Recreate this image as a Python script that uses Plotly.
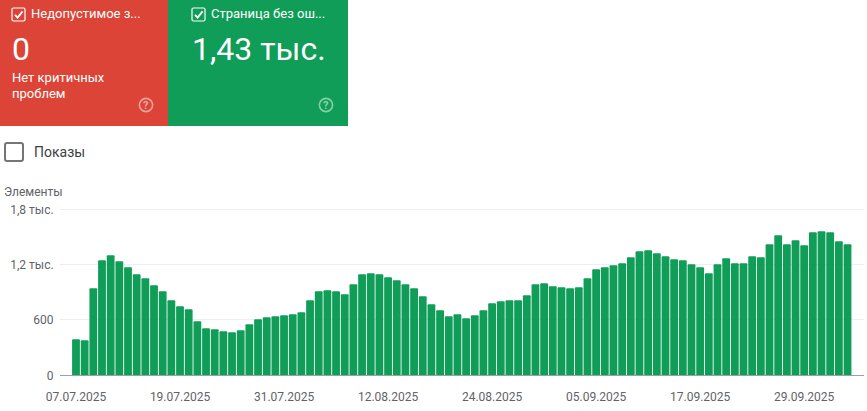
import pandas as pd
import plotly.graph_objects as go

W, H = 867, 411

dates = [d.strftime("%d.%m.%Y") for d in pd.date_range("2025-07-07", periods=90)]
values = [390, 380, 943, 1247, 1301, 1236, 1171, 1095, 1052, 976,
          911, 813, 748, 716, 585, 510, 499, 477, 466, 488,
          553, 607, 629, 640, 650, 661, 683, 813, 911, 922,
          911, 878, 987, 1095, 1106, 1095, 1063, 1030, 987, 943,
          857, 770, 705, 640, 661, 618, 650, 705, 781, 802,
          813, 813, 867, 987, 997, 965, 954, 943, 954, 1052,
          1149, 1171, 1193, 1214, 1279, 1344, 1355, 1323, 1290, 1258,
          1247, 1203, 1171, 1106, 1203, 1269, 1214, 1214, 1290, 1279,
          1420, 1518, 1420, 1464, 1409, 1550, 1561, 1550, 1453, 1420]
x_ticks = dates[::12]
y_ticks = [0, 600, 1200, 1800]
y_labels = ["0", "600", "1,2 тыс.", "1,8 тыс."]

RED, GREEN, GREY = "#db4437", "#0f9d58", "#5f6368"
FONT = "Roboto"


def px(x):
    return x / W


def py(y):
    return 1 - y / H


fig = go.Figure(go.Bar(x=dates, y=values, marker=dict(color=GREEN, line_width=0, cornerradius=1),
                       width=0.9))

shapes, notes = [], []


def rect(x0, y0, x1, y1, **kw):
    shapes.append(dict(type="rect", xref="paper", yref="paper", x0=px(x0), x1=px(x1),
                       y0=py(y1), y1=py(y0), layer="below", **kw))


def text(x, y, s, size, color="#ffffff", weight=400, anchor="left"):
    notes.append(dict(xref="paper", yref="paper", x=px(x), y=py(y), text=s, showarrow=False,
                      xanchor=anchor, yanchor="middle", align=anchor,
                      font=dict(family=FONT, size=size, color=color, weight=weight),
                      borderpad=0, borderwidth=0))


def rounded(x0, y0, x1, y1, r):
    pts = lambda x, y: f"{px(x):.5f},{py(y):.5f}"
    return (f"M{pts(x0 + r, y0)} L{pts(x1 - r, y0)} Q{pts(x1, y0)} {pts(x1, y0 + r)} "
            f"L{pts(x1, y1 - r)} Q{pts(x1, y1)} {pts(x1 - r, y1)} L{pts(x0 + r, y1)} "
            f"Q{pts(x0, y1)} {pts(x0, y1 - r)} L{pts(x0, y0 + r)} Q{pts(x0, y0)} {pts(x0 + r, y0)} Z")


def checkbox(x, y):
    shapes.append(dict(type="path", xref="paper", yref="paper", path=rounded(x, y, x + 13, y + 13, 1.5),
                       line=dict(color="#ffffff", width=1.2)))
    p = lambda a, b: f"{px(x + a):.5f},{py(y + b):.5f}"
    shapes.append(dict(type="path", xref="paper", yref="paper",
                       path=f"M{p(3, 6.8)} L{p(5.6, 9.6)} L{p(10.6, 3.4)}",
                       line=dict(color="#ffffff", width=1.8)))


def help_icon(x, y):
    shapes.append(dict(type="circle", xref="paper", yref="paper", x0=px(x - 6.6), x1=px(x + 6.6),
                       y0=py(y + 6.6), y1=py(y - 6.6),
                       line=dict(color="rgba(255,255,255,0.5)", width=1.6)))
    text(x, y, "?", 11, "rgba(255,255,255,0.55)", 700, "center")


rect(0, 0, 168, 126, fillcolor=RED, line_width=0)
rect(168, 0, 348, 126, fillcolor=GREEN, line_width=0)
checkbox(12, 8)
checkbox(192, 8)
text(31, 14, "Недопустимое з...", 13)
text(211, 14, "Страница без ош...", 13)
text(12, 49, "0", 32)
text(192, 49, "1,43 тыс.", 32)
text(12, 77.5, "Нет критичных", 13)
text(12, 93.5, "проблем", 13)
help_icon(146, 105)
help_icon(326, 105)
shapes.append(dict(type="path", xref="paper", yref="paper", path=rounded(5, 143, 23, 161, 2),
                   line=dict(color="#757575", width=2)))
text(34, 152, "Показы", 14, "#3c4043")
text(4, 192.5, "Элементы", 12, GREY)

fig.update_layout(
    width=W, height=H, autosize=False,
    margin=dict(l=0, r=0, t=0, b=0, pad=0, autoexpand=False),
    paper_bgcolor="#ffffff", plot_bgcolor="#ffffff",
    showlegend=False, shapes=shapes, annotations=notes, bargap=0.1,
    font=dict(family=FONT, size=12, color=GREY),
    xaxis=dict(domain=[px(60), px(864)], type="category", range=[-1.845, 90.9],
               tickvals=x_ticks, ticktext=x_ticks, tickangle=0, ticks="outside", ticklen=10.5,
               tickcolor="rgba(0,0,0,0)", showgrid=False, showline=True, linecolor="#9aa0a6",
               linewidth=1, zeroline=False, automargin=False),
    # the range runs a little past 1800 so that the top gridline is not clipped
    yaxis=dict(domain=[py(375.3), py(208.2)], range=[0, 1812], tickvals=y_ticks, ticktext=y_labels,
               ticks="outside", ticklen=3, tickcolor="rgba(0,0,0,0)", showgrid=True,
               gridcolor="#eeeeee", gridwidth=1, zeroline=False, showline=False, automargin=False),
)

fig.write_html("out.html", config=dict(displayModeBar=False),
               post_script="document.body.style.margin='0';document.documentElement.style.overflow='hidden';")
